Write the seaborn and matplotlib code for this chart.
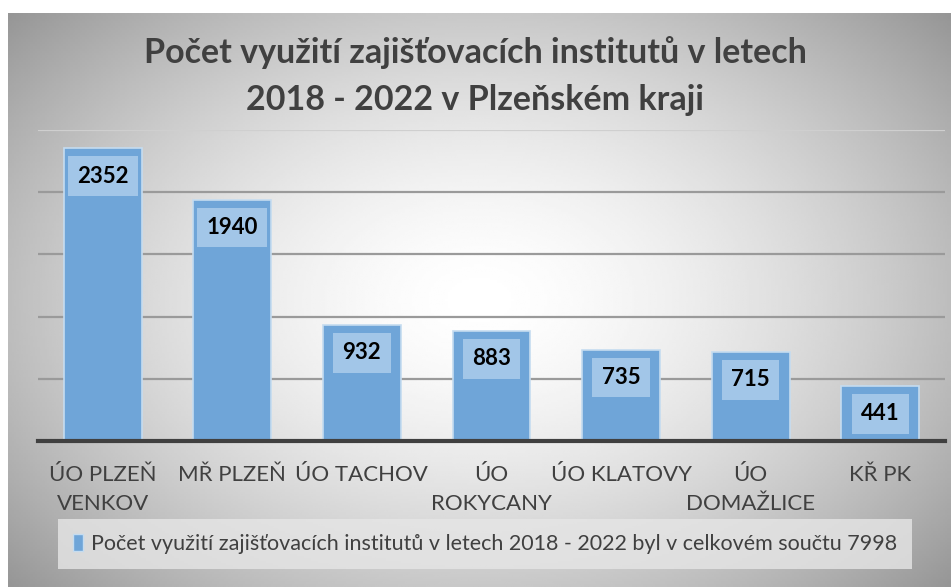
import numpy as np
import pandas as pd
import matplotlib
matplotlib.use("Agg")
import matplotlib.pyplot as plt
import matplotlib.patches as mpatches
import seaborn as sns

# data
categories = ["ÚO PLZEŇ\nVENKOV", "MŘ PLZEŇ", "ÚO TACHOV", "ÚO\nROKYCANY",
              "ÚO KLATOVY", "ÚO\nDOMAŽLICE", "KŘ PK"]
values = [2352, 1940, 932, 883, 735, 715, 441]
title = "Počet využití zajišťovacích institutů v letech\n2018 - 2022 v Plzeňském kraji"
legend_label = "Počet využití zajišťovacích institutů v letech 2018 - 2022 byl v celkovém součtu 7998"
y_ticks = [0, 500, 1000, 1500, 2000, 2500]

sns.set_theme(style="white")
plt.rcParams["font.family"] = ["Lato", "DejaVu Sans"]

bar_color = "#6FA5D8"
text_color = "#404040"

fig = plt.figure(figsize=(9.51, 5.87), dpi=100)

# radial grey-to-white background like the original chart area
bg = fig.add_axes([8 / 951, 0, 1 - 8 / 951, 1 - 13 / 587], zorder=-10)
gx, gy = np.meshgrid(np.linspace(-1, 1, 400), np.linspace(-1, 1, 250))
r = np.sqrt((gx * 0.95) ** 2 + (gy * 0.85) ** 2)
shade = np.clip(1.0 - 0.28 * r ** 1.6, 0, 1)
bg.imshow(shade, cmap="gray", vmin=0, vmax=1, aspect="auto", extent=[0, 1, 0, 1])
bg.axis("off")

ax = fig.add_axes([38 / 951, 1 - 441 / 587, (945 - 38) / 951, (441 - 130) / 587])
ax.patch.set_alpha(0)

df = pd.DataFrame({"cat": categories, "val": values})
sns.barplot(data=df, x="cat", y="val", color=bar_color, saturation=1,
            width=0.6, edgecolor="#C5DCF0", linewidth=1.2, ax=ax, zorder=3)

ax.set_ylim(0, 2500)
ax.set_yticks(y_ticks)
ax.yaxis.grid(True, color="#9a9a9a", linewidth=1.6, zorder=0)
ax.get_ygridlines()[-1].set_color("#cfcfcf")
ax.set_axisbelow(True)
ax.tick_params(axis="y", left=False, labelleft=False)
ax.tick_params(axis="x", bottom=False, labelsize=16, labelcolor=text_color, pad=11)
for lbl in ax.get_xticklabels():
    lbl.set_linespacing(1.6)
    lbl.set_verticalalignment("top")
ax.set_xlabel("")
ax.set_ylabel("")
for s in ["top", "right", "left"]:
    ax.spines[s].set_visible(False)
ax.spines["bottom"].set_color("#404040")
ax.spines["bottom"].set_linewidth(3)
ax.spines["bottom"].set_zorder(5)

# value labels inside the top of each bar
for i, v in enumerate(values):
    ax.annotate(str(v), xy=(i, v), xytext=(0, -20), textcoords="offset points",
                ha="center", va="center", fontsize=16, fontweight="bold",
                color="black", zorder=6,
                bbox=dict(boxstyle="square,pad=0.42", facecolor="#A2C6E8",
                          edgecolor="none"))

fig.text(0.5, 1 - 76 / 587, title, ha="center", va="center", fontsize=24.5,
         fontweight="bold", color=text_color, linespacing=1.55)

handle = mpatches.Patch(facecolor=bar_color, edgecolor="#C5DCF0")
leg = fig.legend([handle], [legend_label], loc="center",
                 bbox_to_anchor=(0.51, 1 - 544 / 587), frameon=True, fontsize=15.5,
                 handlelength=0.45, handleheight=0.8, handletextpad=0.35,
                 borderpad=0.4, labelcolor=text_color)
leg.get_frame().set_facecolor("#e6e6e6")
leg.get_frame().set_edgecolor("none")
leg.get_frame().set_alpha(0.8)
leg.get_frame().set_boxstyle("square,pad=0.3")

fig.savefig("out.png", dpi=100)
